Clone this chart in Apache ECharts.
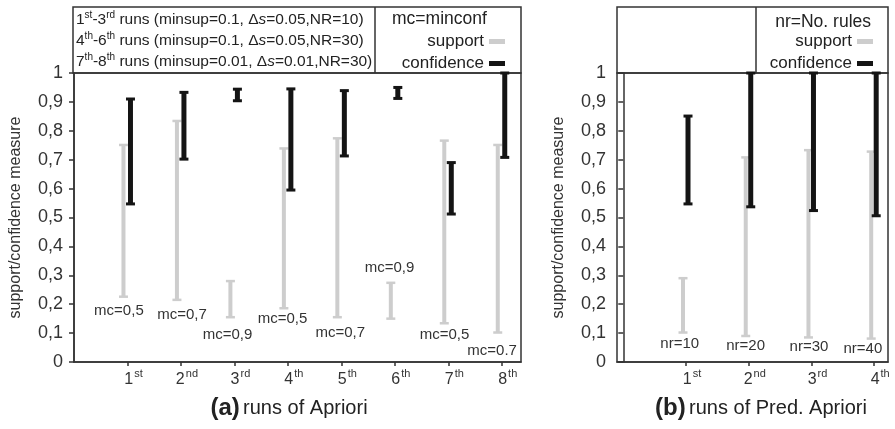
<!DOCTYPE html>
<html><head><meta charset="utf-8">
<script src="https://cdn.jsdelivr.net/npm/echarts@6/dist/echarts.min.js"></script>
<style>html,body{margin:0;padding:0;background:#fff}#c{width:895px;height:429px}</style>
</head><body><div id="c"></div>
<script>
// ---------- data: (a) runs of Apriori ----------
const numA = ['1','2','3','4','5','6','7','8'];
const supA = ['st','nd','rd','th','th','th','th','th'];
const supportLowA  = [0.226, 0.215, 0.155, 0.186, 0.155, 0.150, 0.134, 0.102];
const supportHighA = [0.751, 0.834, 0.280, 0.739, 0.774, 0.274, 0.766, 0.751];
const confLowA     = [0.547, 0.702, 0.904, 0.595, 0.713, 0.912, 0.512, 0.708];
const confHighA    = [0.910, 0.933, 0.944, 0.945, 0.939, 0.950, 0.690, 1.000];
const mcLabelsA = ['mc=0,5','mc=0,7','mc=0,9','mc=0,5','mc=0,7','mc=0,9','mc=0,5','mc=0.7'];
const mcLabelXA = [0.84, 2.02, 2.87, 3.90, 4.98, 5.90, 6.93, 7.82];
const mcLabelYA = [0.176, 0.163, 0.093, 0.149, 0.100, 0.325, 0.093, 0.038];
// legend text for run groups
const rgFrom = ['1','4','7'], rgFromSup = ['st','th','th'];
const rgTo = ['3','6','8'], rgToSup = ['rd','th','th'];
const rgMinsup = ['0.1','0.1','0.01'], rgDs = ['0.05','0.05','0.01'], rgNR = ['10','30','30'];

// ---------- data: (b) runs of Pred. Apriori ----------
const numB = ['1','2','3','4'];
const supB = ['st','nd','rd','th'];
const supportLowB  = [0.102, 0.090, 0.085, 0.081];
const supportHighB = [0.290, 0.708, 0.733, 0.728];
const confLowB     = [0.547, 0.537, 0.524, 0.506];
const confHighB    = [0.851, 1.000, 1.000, 1.000];
const nrLabelsB = ['nr=10','nr=20','nr=30','nr=40'];
const nrLabelXB = [0.90, 1.95, 2.96, 3.82];
const nrLabelYB = [0.062, 0.055, 0.052, 0.045];

// ---------- build ----------
const FONT = "'Liberation Sans', Arial, sans-serif";
const GREY = '#cdcdcd', BLACK = '#141414', AXC = '#333';

function rows(lo, hi) { return lo.map((v, i) => [i + 1, v, hi[i]]); }

function errRenderer(dx, lw, capW, capLw, color) {
  return function (params, api) {
    const x = api.value(0), lo = api.value(1), hi = api.value(2);
    const p1 = api.coord([x, lo]), p2 = api.coord([x, hi]);
    const cx = p1[0] + dx;
    return { type: 'group', children: [
      { type: 'line', shape: { x1: cx, y1: p1[1], x2: cx, y2: p2[1] }, style: { stroke: color, lineWidth: lw } },
      { type: 'line', shape: { x1: cx - capW / 2, y1: p1[1], x2: cx + capW / 2, y2: p1[1] }, style: { stroke: color, lineWidth: capLw } },
      { type: 'line', shape: { x1: cx - capW / 2, y1: p2[1], x2: cx + capW / 2, y2: p2[1] }, style: { stroke: color, lineWidth: capLw } }
    ]};
  };
}
function textRenderer(labels) {
  return function (params, api) {
    const p = api.coord([api.value(0), api.value(1)]);
    return { type: 'text', x: p[0], y: p[1], style: { text: labels[params.dataIndex], align: 'center', verticalAlign: 'middle', font: '15px ' + FONT, fill: '#333' } };
  };
}

function yAxisCfg(gi) {
  return {
    gridIndex: gi, type: 'value', min: 0, max: 1, interval: 0.1,
    name: 'support/confidence measure', nameLocation: 'middle', nameGap: 50, nameRotate: 90,
    nameTextStyle: { fontFamily: FONT, fontSize: 16, color: '#333' },
    axisLine: { show: true, lineStyle: { color: AXC, width: 1.5 } },
    axisTick: { show: true, inside: false, length: 5, lineStyle: { color: AXC, width: 1.5 } },
    splitLine: { show: false },
    axisLabel: { margin: 11, fontFamily: FONT, fontSize: 18, color: '#333',
      formatter: v => (v === 0 ? '0' : (Math.abs(v - 1) < 1e-9 ? '1' : v.toFixed(1).replace('.', ','))) }
  };
}
function xAxisCfg(gi, min, max, nums, sups) {
  const vals = nums.map((_, i) => i + 1);
  return {
    gridIndex: gi, type: 'value', min: min, max: max,
    axisLine: { show: true, lineStyle: { color: AXC, width: 1.5 } },
    axisTick: { show: true, customValues: vals, length: 4, lineStyle: { color: AXC, width: 1.5 } },
    splitLine: { show: false },
    axisLabel: { customValues: vals, margin: 6, padding: [0, 0, 0, 12],
      formatter: v => '{n|' + nums[Math.round(v) - 1] + '}{s|' + sups[Math.round(v) - 1] + '}',
      rich: { n: { fontFamily: FONT, fontSize: 16, color: '#333', lineHeight: 20, verticalAlign: 'bottom' },
              s: { fontFamily: FONT, fontSize: 11, color: '#333', verticalAlign: 'top', lineHeight: 20, padding: [0, 0, 0, 1] } } }
  };
}
function errSeries(name, gi, data, dx, lw, capW, capLw, color) {
  return { name: name, type: 'custom', xAxisIndex: gi, yAxisIndex: gi, data: data,
    itemStyle: { color: color }, renderItem: errRenderer(dx, lw, capW, capLw, color),
    encode: { x: 0, y: [1, 2] }, silent: true, clip: false };
}
function labelSeries(gi, xs, ys, labels) {
  return { type: 'custom', xAxisIndex: gi, yAxisIndex: gi, data: xs.map((x, i) => [x, ys[i]]),
    renderItem: textRenderer(labels), silent: true, clip: false, legendHoverLink: false };
}

function rgText(i) {
  return '{n|' + rgFrom[i] + '}{s|' + rgFromSup[i] + '}{n|-' + rgTo[i] + '}{s|' + rgToSup[i] + '}{n| runs (minsup=' +
    rgMinsup[i] + ', Δ}{i|s}{n|=' + rgDs[i] + ',NR=' + rgNR[i] + ')}';
}
const rgRich = {
  n: { fontFamily: FONT, fontSize: 15.5, fill: '#222', verticalAlign: 'bottom', lineHeight: 18 },
  i: { fontFamily: FONT, fontSize: 15.5, fontStyle: 'italic', fill: '#222', verticalAlign: 'bottom', lineHeight: 18 },
  s: { fontFamily: FONT, fontSize: 10, fill: '#222', verticalAlign: 'top', lineHeight: 18 }
};

const legendCommon = {
  orient: 'vertical', align: 'right', itemWidth: 16, itemHeight: 5, itemGap: 5,
  textStyle: { fontFamily: FONT, fontSize: 17, color: '#222' }, selectedMode: false,
  data: [{ name: 'support', icon: 'rect', itemStyle: { color: GREY } },
         { name: 'confidence', icon: 'rect', itemStyle: { color: BLACK } }]
};

const box = (x, y, w, h) => ({ type: 'rect', shape: { x: x, y: y, width: w, height: h }, style: { fill: 'none', stroke: '#333', lineWidth: 1.5 }, silent: true });
const vline = (x, y1, y2) => ({ type: 'line', shape: { x1: x, y1: y1, x2: x, y2: y2 }, style: { stroke: '#333', lineWidth: 1.5 }, silent: true });
const txt = (x, y, text, rich, align) => ({ type: 'text', x: x, y: y, style: { text: text, rich: rich, align: align || 'left', verticalAlign: 'middle', font: '17.5px ' + FONT, fill: '#222' }, silent: true });

const option = {
  animation: false,
  backgroundColor: '#fff',
  grid: [
    { left: 73, top: 73, width: 448, height: 289, show: true, borderColor: '#333', borderWidth: 1.5, backgroundColor: 'transparent' },
    { left: 617, top: 73, width: 271, height: 289, show: true, borderColor: '#333', borderWidth: 1.5, backgroundColor: 'transparent' }
  ],
  xAxis: [ xAxisCfg(0, 0, 8.36, numA, supA), xAxisCfg(1, -0.1, 4.22, numB, supB) ],
  yAxis: [ yAxisCfg(0), yAxisCfg(1) ],
  legend: [
    Object.assign({ right: 385, top: 28 }, legendCommon),
    Object.assign({ right: 17, top: 28 }, legendCommon)
  ],
  series: [
    errSeries('support', 0, rows(supportLowA, supportHighA), -4, 4, 9, 2.5, GREY),
    errSeries('confidence', 0, rows(confLowA, confHighA), 3, 5, 9, 3, BLACK),
    labelSeries(0, mcLabelXA, mcLabelYA, mcLabelsA),
    errSeries('support', 1, rows(supportLowB, supportHighB), -3, 4, 9, 2.5, GREY),
    errSeries('confidence', 1, rows(confLowB, confHighB), 2, 5, 9, 3, BLACK),
    labelSeries(1, nrLabelXB, nrLabelYB, nrLabelsB)
  ],
  graphic: [
    box(73, 7, 448, 66), vline(375, 7, 73),
    box(617, 7, 271, 66), vline(756, 7, 73),
    txt(76, 19, rgText(0), rgRich), txt(76, 40, rgText(1), rgRich), txt(76, 61, rgText(2), rgRich),
    txt(392, 19, 'mc=minconf'),
    txt(871, 22, 'nr=No. rules', null, 'right'),
    { type: 'text', x: 289, y: 408, silent: true, style: {
        text: '{b|(a)} {r|runs of Apriori}', align: 'center', verticalAlign: 'middle',
        rich: { b: { fontFamily: FONT, fontSize: 24, fontWeight: 'bold', fill: '#222' }, r: { fontFamily: FONT, fontSize: 20, fill: '#222' } } } },
    { type: 'text', x: 761, y: 408, silent: true, style: {
        text: '{b|(b)} {r|runs of Pred. Apriori}', align: 'center', verticalAlign: 'middle',
        rich: { b: { fontFamily: FONT, fontSize: 24, fontWeight: 'bold', fill: '#222' }, r: { fontFamily: FONT, fontSize: 20, fill: '#222' } } } }
  ]
};
const chart = echarts.init(document.getElementById('c'), null, { renderer: 'canvas' });
chart.setOption(option);
</script></body></html>
